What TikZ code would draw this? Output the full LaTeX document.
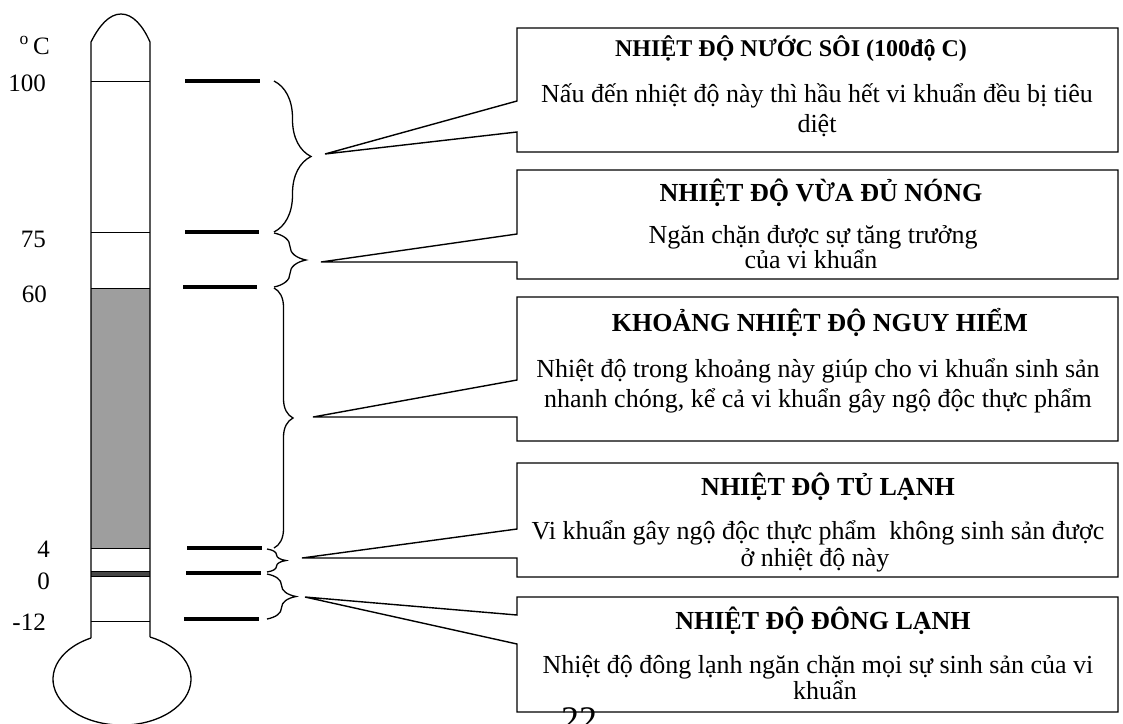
\documentclass[tikz,border=0pt]{standalone}
\usepackage{fontspec}
\setmainfont{Liberation Serif}
\usetikzlibrary{decorations.pathreplacing}
\begin{document}
\begin{tikzpicture}[x=1pt,y=-1pt,
  thermline/.style={line width=1.3pt},
  thermtick/.style={line width=3.5pt},
  bracestyle/.style={decorate, decoration={brace, amplitude=#1}, line width=1.3pt},
  callout/.style={line width=1.4pt, fill=white, line join=miter},
  ttl/.style={font=\fontsize{26}{30}\selectfont\bfseries, anchor=base, inner sep=0pt},
  bdy/.style={font=\fontsize{26}{30}\selectfont, anchor=base, inner sep=0pt},
  lbl/.style={font=\fontsize{25}{29}\selectfont, anchor=base east, inner sep=0pt}]
\useasboundingbox (0,0) rectangle (1123,723);

% ---------- thermometer ----------
\fill[black!38] (91,288) rectangle (150,548);
\fill[black!72] (91,571) rectangle (150,576);
\draw[thermline] (91,638) -- (91,42) .. controls (99,26) and (109,14) .. (121,14)
   .. controls (133,14) and (143,26) .. (150,42) -- (150,637);
\draw[thermline] (91,638) arc[start angle=243.3, end angle=-66, x radius=69, y radius=46];
\foreach \yy in {81,232,288,548,571,576,621}
  \draw[line width=1pt] (91,\yy) -- (150,\yy);

% scale labels
\node[lbl] (lC)   at (50,54)  {\textsuperscript{o}\,C};
\node[lbl] (l100) at (46,91)  {100};
\node[lbl] (l75)  at (46,247) {75};
\node[lbl] (l60)  at (47,302) {60};
\node[lbl] (l4)   at (50,557) {4};
\node[lbl] (l0)   at (50,589) {0};
\node[lbl] (lm12) at (46,630) {-12};

% tick marks
\draw[thermtick] (185,81) -- (260,81);
\draw[thermtick] (185,232) -- (259,232);
\draw[thermtick] (183,287) -- (257,287);
\draw[thermtick] (187,548) -- (262,548);
\draw[thermtick] (186,573) -- (261,573);
\draw[thermtick] (184,619) -- (259,619);

% braces
\coordinate (b1a) at (274,81);  \coordinate (b1b) at (274,232);
\coordinate (b2a) at (274,233); \coordinate (b2b) at (274,287);
\coordinate (b3a) at (274,288); \coordinate (b3b) at (274,548);
\coordinate (b4a) at (267,549); \coordinate (b4b) at (267,572);
\coordinate (b5a) at (267,574); \coordinate (b5b) at (267,619);
\draw[bracestyle=37] (b1a) -- (b1b);
\draw[bracestyle=32] (b2a) -- (b2b);
\draw[bracestyle=19] (b3a) -- (b3b);
\draw[bracestyle=19] (b4a) -- (b4b);
\draw[bracestyle=29] (b5a) -- (b5b);

% callout tips
\coordinate (t1) at (325,154);
\coordinate (t2) at (321,262);
\coordinate (t3) at (313,417);
\coordinate (t4) at (302,558);
\coordinate (t5) at (305,597);

% ---------- callouts ----------
\draw[callout] (517,28) -- (1118,28) -- (1118,152) -- (517,152) -- (517,132) -- (t1) -- (517,101) -- cycle;
\draw[callout] (517,170) -- (1118,170) -- (1118,279) -- (517,279) -- (517,262) -- (t2) -- (517,234) -- cycle;
\draw[callout] (517,297) -- (1118,297) -- (1118,441) -- (517,441) -- (517,417) -- (t3) -- (517,380) -- cycle;
\draw[callout] (517,463) -- (1118,463) -- (1118,577) -- (517,577) -- (517,558) -- (t4) -- (517,529) -- cycle;
\draw[callout] (517,597) -- (1118,597) -- (1118,712) -- (517,712) -- (517,644) -- (t5) -- (517,615) -- cycle;

% texts
\node[ttl, font=\fontsize{24}{28}\selectfont\bfseries] (h1) at (791,56) {NHIỆT ĐỘ NƯỚC SÔI (100độ C)};
\node[bdy] (d1a) at (817,102) {Nấu đến nhiệt độ này thì hầu hết vi khuẩn đều bị tiêu};
\node[bdy] (d1b) at (817,132) {diệt};

\node[ttl] (h2) at (821,201) {NHIỆT ĐỘ VỪA ĐỦ NÓNG};
\node[bdy] (d2a) at (813,243) {Ngăn chặn được sự tăng trưởng};
\node[bdy] (d2b) at (811,268) {của vi khuẩn};

\node[ttl] (h3) at (820,331) {KHOẢNG NHIỆT ĐỘ NGUY HIỂM};
\node[bdy] (d3a) at (818,377) {Nhiệt độ trong khoảng này giúp cho vi khuẩn sinh sản};
\node[bdy] (d3b) at (818,407) {nhanh chóng, kể cả vi khuẩn gây ngộ độc thực phẩm};

\node[ttl] (h4) at (828,495) {NHIỆT ĐỘ TỦ LẠNH};
\node[bdy] (d4a) at (818,539) {Vi khuẩn gây ngộ độc thực phẩm\ \ không sinh sản được};
\node[bdy] (d4b) at (815,566) {ở nhiệt độ này};

\node[ttl] (h5) at (823,629) {NHIỆT ĐỘ ĐÔNG LẠNH};
\node[bdy] (d5a) at (818,673) {Nhiệt độ đông lạnh ngăn chặn mọi sự sinh sản của vi};
\node[bdy] (d5b) at (825,699) {khuẩn};

\node[font=\fontsize{36}{40}\selectfont, anchor=base west, inner sep=0pt] (pg) at (561,731) {22};
\end{tikzpicture}
\end{document}
